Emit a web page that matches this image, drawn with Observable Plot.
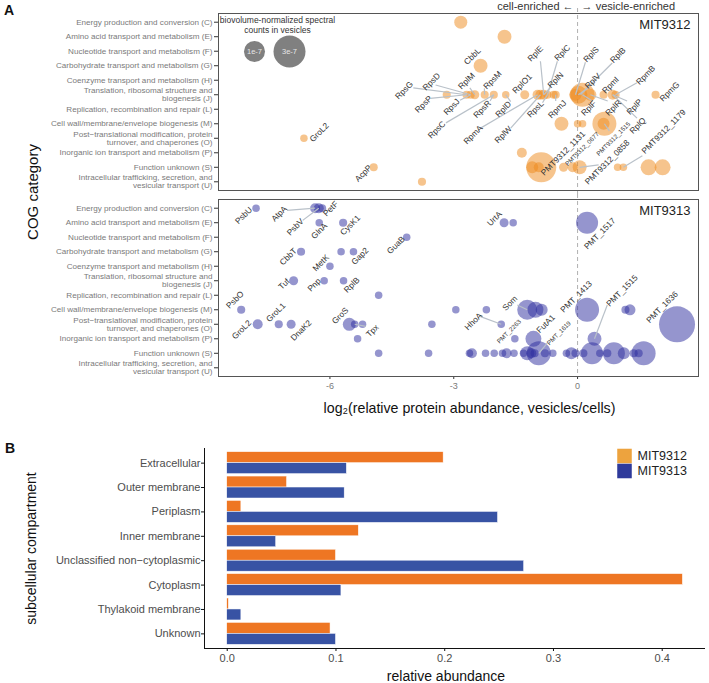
<!DOCTYPE html>
<html><head><meta charset="utf-8">
<script src="https://cdn.jsdelivr.net/npm/d3@7"></script>
<script src="https://cdn.jsdelivr.net/npm/@observablehq/plot@0.6"></script>
<style>
body{margin:0;background:#fff;font-family:'Liberation Sans',Arial,Helvetica,sans-serif;}
#wrap{position:relative;width:709px;height:683px;overflow:hidden;background:#fff}
#wrap svg{position:absolute;left:0}
.plab{position:absolute;font-weight:bold;font-size:14px;color:#111}
.ytitle{position:absolute;font-size:15px;color:#111;white-space:nowrap;transform:translate(-50%,-50%) rotate(-90deg)}
</style></head><body><div id="wrap"></div>
<script>
const FONT = "'Liberation Sans', Arial, Helvetica, sans-serif";
const strains = ["MIT9312", "MIT9313"];
const cogCodes = ["C","E","F","G","H","J","L","M","O","P","S","U"];
const cogCategories = [
  "Energy production and conversion (C)",
  "Amino acid transport and metabolism (E)",
  "Nucleotide transport and metabolism (F)",
  "Carbohydrate transport and metabolism (G)",
  "Coenzyme transport and metabolism (H)",
  "Translation, ribosomal structure and\nbiogenesis (J)",
  "Replication, recombination and repair (L)",
  "Cell wall/membrane/envelope biogenesis (M)",
  "Post\u2212translational modification, protein\nturnover, and chaperones (O)",
  "Inorganic ion transport and metabolism (P)",
  "Function unknown (S)",
  "Intracellular trafficking, secretion, and\nvesicular transport (U)"
];
const xTicks = [-6, -3, 0];
const legendCounts = [1, 3];            // spectral counts, units of 1e-7
const legendCountLabels = ["1e-7", "3e-7"];

// [COG, log2(vesicles/cells), biovolume-normalized spectral count (1e-7)]
const mit9312Points = [
  ["C",-2.83,0.22],["E",-1.77,0.28],["G",-2.35,0.28],
  ["J",-3.17,0.02],["J",-2.69,0.02],["J",-2.59,0.02],["J",-2.49,0.04],["J",-2.25,0.02],
  ["J",-2.03,0.02],["J",-1.74,0.01],["J",-1.28,0.04],["J",-0.97,0.07],["J",-0.90,0.07],
  ["J",-0.82,0.07],["J",-0.73,0.02],["J",-0.58,0.02],["J",-0.53,0.02],["J",-0.05,0.16],
  ["J",0.02,0.64],["J",0.12,1.44],["J",0.31,0.16],["J",0.63,0.02],["J",0.85,0.07],
  ["J",0.92,0.02],["J",1.89,0.02],
  ["M",-0.39,0.28],["M",0.00,0.01],["M",0.12,0.01],["M",0.65,1.44],["M",0.63,0.16],
  ["O",-6.63,0.01],
  ["P",-1.35,0.07],
  ["S",-4.94,0.02],["S",-0.88,2.56],["S",-1.10,0.16],["S",-0.94,0.07],["S",-0.34,0.04],
  ["S",-0.12,0.07],["S",0.05,0.28],["S",0.97,0.01],["S",1.11,0.01],["S",1.72,0.44],["S",2.06,0.44],
  ["U",-3.77,0.02]
];
const mit9313Points = [
  ["C",-7.79,0.01],["C",-6.36,0.07],["C",-6.27,0.07],["C",-6.19,0.02],
  ["E",-6.26,0.01],["E",-5.68,0.02],["E",-1.78,0.04],["E",-1.56,0.01],["E",0.23,1.14],
  ["F",-4.14,0.01],
  ["G",-6.70,0.02],["G",-5.73,0.01],["G",-5.43,0.01],
  ["H",-6.00,0.01],
  ["J",-6.88,0.04],["J",-6.14,0.01],["J",-5.67,0.01],
  ["L",-4.82,0.01],
  ["M",-8.15,0.02],["M",-2.95,0.01],["M",-2.21,0.01],["M",-1.22,0.87],["M",-1.02,0.44],
  ["M",-0.87,0.16],["M",0.23,1.44],["M",1.16,0.02],["M",1.27,0.11],
  ["O",-7.75,0.07],["O",-7.24,0.02],["O",-6.94,0.04],["O",-5.53,0.22],["O",-5.40,0.01],
  ["O",-5.21,0.01],["O",-3.53,0.01],["O",-1.85,0.01],["O",2.41,3.99],
  ["P",-5.33,0.01],["P",-1.52,0.01],["P",-1.07,0.44],["P",0.41,0.28],
  ["S",-4.82,0.01],["S",-3.61,0.01],["S",-2.56,0.07],["S",-2.62,0.01],["S",-2.23,0.01],
  ["S",-2.02,0.01],["S",-1.82,0.01],["S",-1.72,0.07],["S",-1.54,0.01],["S",-1.31,0.01],
  ["S",-1.22,0.28],["S",-1.12,0.07],["S",-1.04,0.02],["S",-0.94,1.44],["S",-0.79,0.02],
  ["S",-0.60,0.01],["S",-0.27,0.01],["S",-0.15,0.16],["S",-0.05,0.02],["S",0.14,0.02],
  ["S",0.35,1.14],["S",0.54,0.01],["S",0.72,0.02],["S",0.88,1.14],["S",1.12,0.16],
  ["S",1.36,0.02],["S",1.48,0.02],["S",1.60,1.44]
];

// [protein, point log2, point COG, label log2, label row, leader-end log2, leader-end row]
const mit9312Labels = [
  ["CbbL",-2.35,"G",-2.55,2.35,null,null],
  ["RpsG",-2.69,"J",-4.20,4.70,-3.98,4.52],
  ["RpsD",-2.59,"J",-3.54,4.11,-3.44,4.33],
  ["RpsP",-2.69,"J",-3.73,5.66,-3.57,5.25],
  ["RplM",-2.49,"J",-2.69,4.06,-2.61,4.52],
  ["RpsJ",-2.59,"J",-3.05,5.84,-2.85,5.38],
  ["RpsM",-2.25,"J",-2.06,3.99,-2.26,4.56],
  ["RpsR",-2.03,"J",-2.31,6.00,-2.12,5.43],
  ["RplD",-1.74,"J",-1.80,6.00,-1.62,5.48],
  ["RplO1",-1.28,"J",-1.34,4.24,null,null],
  ["RpsC",-2.03,"J",-3.41,7.42,-3.19,6.94],
  ["RpmA",-0.97,"J",-2.53,7.76,-2.35,7.30],
  ["RplW",-0.90,"J",-1.80,7.76,-1.62,7.30],
  ["RplE",-0.82,"J",-1.02,2.17,-0.90,2.69],
  ["RplC",-0.73,"J",-0.37,2.12,-0.49,2.69],
  ["RplN",-0.82,"J",-0.53,3.99,-0.65,4.47],
  ["RpsL",-0.73,"J",-1.02,6.00,-0.85,5.55],
  ["RpmJ",-0.53,"J",-0.49,6.00,-0.53,5.43],
  ["RplS",-0.05,"J",0.33,2.23,0.19,2.76],
  ["RplB",0.07,"J",0.98,2.28,0.84,2.81],
  ["RplV",0.02,"J",0.37,4.06,0.23,4.56],
  ["RpmI",0.63,"J",0.80,4.34,null,null],
  ["RpmB",0.92,"J",1.65,3.65,1.44,4.18],
  ["RpmG",1.89,"J",2.23,4.79,null,null],
  ["RplF",0.12,"J",0.27,5.93,0.36,5.43],
  ["RplR",0.31,"J",0.87,5.91,0.73,5.43],
  ["RplP",0.85,"J",1.38,5.84,1.20,5.43],
  ["RplQ",0.85,"J",1.46,7.14,1.44,6.61],
  ["PMT9312_1131",-0.34,"S",-0.35,9.04,null,null],
  ["PMT9312_0677",-0.12,"S",0.11,8.74,null,null],
  ["PMT9312_1515",0.65,"M",0.87,8.04,0.77,7.49],
  ["PMT9312_0858",0.05,"S",0.72,9.66,0.51,9.84],
  ["PMT9312_1179",1.11,"S",2.09,7.54,1.57,9.20],
  ["AcpP",-4.94,"S",-5.19,10.42,null,null],
  ["GroL2",-6.63,"O",-6.26,7.60,null,null]
];
const mit9313Labels = [
  ["PsbU",-7.79,"C",-8.09,0.50,null,null],
  ["AtpA",-6.36,"C",-7.23,0.38,-7.04,0.15],
  ["PetF",-6.19,"C",-5.98,0.04,null,null],
  ["PsbV",-6.27,"C",-6.84,1.30,-6.66,0.84],
  ["GlnA",-6.26,"E",-6.26,1.57,null,null],
  ["CysK1",-5.68,"E",-5.51,1.18,null,null],
  ["CbbT",-6.70,"G",-7.01,3.35,null,null],
  ["MetK",-6.00,"H",-6.22,3.77,null,null],
  ["Gap2",-5.43,"G",-5.27,3.31,null,null],
  ["GuaB",-4.14,"F",-4.40,2.55,null,null],
  ["Tuf",-6.88,"J",-7.11,5.23,null,null],
  ["Pnp",-6.14,"J",-6.38,5.29,null,null],
  ["RplB",-5.67,"J",-5.47,5.29,null,null],
  ["PsbO",-8.15,"M",-8.30,6.32,null,null],
  ["GroL2",-7.75,"O",-8.14,8.38,null,null],
  ["GroL1",-7.24,"O",-7.31,7.19,null,null],
  ["DnaK2",-6.94,"O",-6.70,8.43,null,null],
  ["GroS",-5.53,"O",-5.75,7.42,null,null],
  ["Tpx",-5.40,"O",-4.97,8.45,-5.13,8.15],
  ["UrtA",-1.78,"E",-2.01,0.72,null,null],
  ["PMT_1517",0.23,"E",0.54,1.75,null,null],
  ["Som",-1.22,"M",-1.64,6.55,-1.46,6.67],
  ["HhoA",-1.85,"O",-2.52,7.81,-2.35,7.47],
  ["PMT_2263",-1.52,"P",-1.66,8.50,null,null],
  ["FutA1",-1.07,"P",-0.77,7.97,null,null],
  ["PMT_1619",-0.94,"S",-0.45,8.61,-0.73,9.29],
  ["PMT_1413",0.23,"M",-0.03,6.10,null,null],
  ["PMT_1515",0.41,"P",1.08,5.69,0.72,6.67],
  ["PMT_1636",2.41,"O",2.05,6.82,null,null]
];
const smallLabels = ["PMT9312_0677","PMT9312_1515","PMT_2263","PMT_1619"];

// Panel B
const compartments = ["Extracellular","Outer membrane","Periplasm","Inner membrane",
  "Unclassified non\u2212cytoplasmic","Cytoplasm","Thylakoid membrane","Unknown"];
const abundanceMIT9312 = [0.199,0.055,0.013,0.121,0.100,0.419,0.0015,0.095];
const abundanceMIT9313 = [0.110,0.108,0.249,0.045,0.273,0.105,0.013,0.100];
const abundanceTicks = [0,0.1,0.2,0.3,0.4];

// ---------- build tables ----------
const rowOf = c => cogCodes.indexOf(c);
const points = [
  ...mit9312Points.map(([c,x,s]) => ({strain:strains[0], row:rowOf(c), x, size:s})),
  ...mit9313Points.map(([c,x,s]) => ({strain:strains[1], row:rowOf(c), x, size:s}))
];
const labels = [
  ...mit9312Labels.map(l => ({strain:strains[0], l})),
  ...mit9313Labels.map(l => ({strain:strains[1], l}))
].map(({strain, l:[name,px,pc,tx,trow,lx,lrow]}) =>
  ({strain, name, px, prow:rowOf(pc), tx, trow, lx, lrow, small: smallLabels.includes(name)}));
const leaders = labels.filter(d => d.lx != null);

const wrap = document.getElementById("wrap");
const mid = {textAnchor: "middle", lineAnchor: "middle"};

const plotA = Plot.plot({
  width: 709, height: 418,
  marginTop: 12, marginLeft: 218, marginRight: 11, marginBottom: 41,
  style: {fontFamily: FONT, background: "transparent", overflow: "visible"},
  x: {domain: [-8.7, 2.93]},
  y: {domain: [-0.6, 11.6], reverse: true},
  fy: {domain: strains, paddingInner: 0.048, paddingOuter: 0, axis: null},
  r: {type: "sqrt", domain: [0, 3], range: [3, 16]},
  color: {domain: strains, range: ["#ee8a1c", "#2b2b9e"]},
  marks: [
    Plot.ruleX([{strain: strains[0], x: 0}], {x: "x", fy: "strain", stroke: "#b0b0b0", strokeDasharray: "4,3", insetTop: -5, insetBottom: -5}),
    Plot.ruleX([{strain: strains[1], x: 0}], {x: "x", fy: "strain", stroke: "#b0b0b0", strokeDasharray: "4,3", insetTop: -5}),
    Plot.axisY({ticks: d3.range(cogCategories.length), tickFormat: i => cogCategories[i], tickSize: 4, tickPadding: 2,
      fontSize: 8.1, lineHeight: 0.98, fill: "#7a7a7a", stroke: "#333", label: null}),
    Plot.axisX({ticks: xTicks, tickFormat: d => String(d), tickSize: 3, tickPadding: 3, fontSize: 9,
      fill: "#7a7a7a", stroke: "#333", label: null}),
    Plot.dot(points, {x: "x", y: "row", r: "size", fy: "strain", fill: "strain", fillOpacity: 0.5}),
    Plot.link(leaders, {x1: "px", y1: "prow", x2: "lx", y2: "lrow", fy: "strain", stroke: "#b9c1c9", strokeWidth: 1.2}),
    Plot.text(labels, {x: "tx", y: "trow", text: "name", fy: "strain", rotate: -45,
      fontSize: d => d.small ? 6.3 : 8.3, fill: "#333"}),
    Plot.frame({stroke: "#555"}),
    // legend (top panel)
    Plot.text([{strain: strains[0]}], {fy: "strain", frameAnchor: "top-left", dx: 59, dy: 11.5, ...mid,
      text: () => "biovolume-normalized spectral\ncounts in vesicles", fontSize: 8.5, fill: "#333", lineHeight: 1.08}),
    Plot.dot([{strain: strains[0], size: legendCounts[0]}], {fy: "strain", frameAnchor: "top-left", dx: 36, dy: 38, r: "size", fill: "#808080"}),
    Plot.dot([{strain: strains[0], size: legendCounts[1]}], {fy: "strain", frameAnchor: "top-left", dx: 71, dy: 38, r: "size", fill: "#808080"}),
    Plot.text([{strain: strains[0], t: legendCountLabels[0]}], {fy: "strain", frameAnchor: "top-left", dx: 36, dy: 38, ...mid, text: "t", fontSize: 7.5, fill: "#e6e6e6"}),
    Plot.text([{strain: strains[0], t: legendCountLabels[1]}], {fy: "strain", frameAnchor: "top-left", dx: 71, dy: 38, ...mid, text: "t", fontSize: 7.5, fill: "#e6e6e6"}),
    // strain labels
    Plot.text(strains.map(s => ({strain: s})), {fy: "strain", text: "strain", frameAnchor: "top-right", textAnchor: "end", lineAnchor: "middle", dx: -8, dy: 11, fontSize: 13, fill: "#222"}),
    // enrichment annotation
    Plot.text([{strain: strains[0], x: 0}], {fy: "strain", x: "x", frameAnchor: "top", dy: -7, dx: -4, textAnchor: "end", lineAnchor: "middle", text: () => "cell-enriched \u2190", fontSize: 11, fill: "#333"}),
    Plot.text([{strain: strains[0], x: 0}], {fy: "strain", x: "x", frameAnchor: "top", dy: -7, dx: 4, textAnchor: "start", lineAnchor: "middle", text: () => "\u2192 vesicle-enriched", fontSize: 11, fill: "#333"}),
    // x title
    Plot.text([{strain: strains[1]}], {fy: "strain", frameAnchor: "bottom", dy: 32, dx: 11, ...mid, text: () => "log\u2082(relative protein abundance, vesicles/cells)", fontSize: 14.2, fill: "#111"})
  ]
});
plotA.style.top = "0px";
wrap.appendChild(plotA);

const bars = [
  ...compartments.map((c, i) => ({strain: strains[0], i, y1: i - 0.45, y2: i, value: abundanceMIT9312[i]})),
  ...compartments.map((c, i) => ({strain: strains[1], i, y1: i, y2: i + 0.45, value: abundanceMIT9313[i]}))
];
const xB = [-0.0209, 0.4398];
const plotB = Plot.plot({
  width: 709, height: 243,
  marginTop: 8, marginBottom: 35, marginLeft: 204, marginRight: 4,
  style: {fontFamily: FONT, background: "transparent", overflow: "visible"},
  x: {domain: xB},
  y: {domain: [-0.6, 7.6], reverse: true},
  color: {domain: strains, range: ["#ee7623", "#3853a4"]},
  marks: [
    Plot.rectX(bars, {x: "value", y1: "y1", y2: "y2", fill: "strain", stroke: "#fff", strokeWidth: 0.5}),
    Plot.ruleX([xB[0]], {stroke: "#111"}),
    Plot.ruleY([7.6], {stroke: "#111"}),
    Plot.axisY({ticks: d3.range(compartments.length), tickFormat: i => compartments[i], tickSize: 3, tickPadding: 1,
      fontSize: 11, fill: "#4d4d4d", stroke: "#111", label: null}),
    Plot.axisX({ticks: abundanceTicks, tickFormat: d3.format(".1f"), tickSize: 3, tickPadding: 3,
      fontSize: 11, fill: "#4d4d4d", stroke: "#111", label: null}),
    Plot.text(["subcellular compartment"], {text: d => d, frameAnchor: "left", dx: -173, rotate: -90, ...mid, fontSize: 14, fill: "#111"}),
    Plot.text(["relative abundance"], {text: d => d, frameAnchor: "bottom", dy: 28, dx: -9, ...mid, fontSize: 14, fill: "#111"}),
    Plot.dot([strains[0]], {frameAnchor: "top-left", dx: 420, dy: 7.5, symbol: "square", r: 8.2, fill: "#eda33e"}),
    Plot.dot([strains[1]], {frameAnchor: "top-left", dx: 420, dy: 22.5, symbol: "square", r: 8.2, fill: "#2e3a9b"}),
    Plot.text([strains[0]], {text: d => d, frameAnchor: "top-left", dx: 433, dy: 7.5, textAnchor: "start", lineAnchor: "middle", fontSize: 12.5, fill: "#222"}),
    Plot.text([strains[1]], {text: d => d, frameAnchor: "top-left", dx: 433, dy: 22.5, textAnchor: "start", lineAnchor: "middle", fontSize: 12.5, fill: "#222"})
  ]
});
plotB.style.top = "440px";
wrap.appendChild(plotB);

// panel letters and shared y title
const a = document.createElement("div"); a.className = "plab"; a.textContent = "A"; a.style.left = "4px"; a.style.top = "2px"; wrap.appendChild(a);
const b = document.createElement("div"); b.className = "plab"; b.textContent = "B"; b.style.left = "5px"; b.style.top = "440px"; wrap.appendChild(b);
const yt = document.createElement("div"); yt.className = "ytitle"; yt.textContent = "COG category"; yt.style.left = "32px"; yt.style.top = "192px"; wrap.appendChild(yt);
</script></body></html>
